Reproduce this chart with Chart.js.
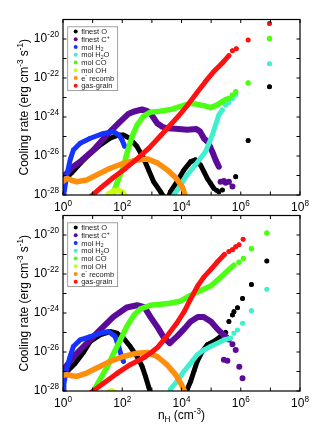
<!DOCTYPE html>
<html>
<head>
<meta charset="utf-8">
<script src="https://cdn.jsdelivr.net/npm/chart.js@4.4.1/dist/chart.umd.min.js"></script>
<style>
  body { margin: 0; background: #fff; }
  #wrap { position: relative; width: 319px; height: 432px; }
  canvas { position: absolute; left: 0; }
</style>
</head>
<body>
<div id="wrap">
  <canvas id="topChart" width="319" height="215" style="top:0"></canvas>
  <canvas id="botChart" width="319" height="222" style="top:210px"></canvas>
</div>
<script>
// values are [log10 nH, log10 cooling rate]; null = break in the band
const species = ['finest O', 'finest C^{+}', 'mol H_{2}', 'mol H_{2}O', 'mol CO', 'mol OH', 'e^{-} recomb', 'gas-grain'];
const xTickExps = [0, 2, 4, 6, 8];
const yTickExps = [-20, -22, -24, -26, -28];

/* upper panel */
const oTop = [[0,-27.3],[0.3,-26.85],[0.6,-26.35],[0.9,-25.9],[1.25,-25.44],[1.59,-25.09],[1.87,-24.92],[2.04,-24.92],[2.25,-25.09],[2.5,-25.52],[2.72,-26.12],[2.89,-26.72],[3.06,-27.32],[3.29,-27.83],[3.45,-28.2],[3.55,-28.15],[3.63,-27.83],[3.85,-27.32],[4.08,-26.72],[4.31,-26.29],[4.47,-26.2],[4.64,-26.46],[4.76,-26.81],[4.87,-27.15],[4.98,-27.4],[5.09,-27.66]];
const oTopDots = [[5.18,-27.75],[5.26,-27.83],[5.38,-27.74],[5.83,-27.06],[6.25,-25.21],[6.97,-22.45]];
const cTop = [[0,-27.1],[0.3,-26.6],[0.58,-26.29],[1.03,-25.69],[1.48,-24.92],[1.93,-24.24],[2.2,-23.85],[2.38,-23.73],[2.67,-23.61],[2.85,-23.7],[2.95,-23.81],[3.18,-24.32],[3.35,-24.5],[3.51,-24.58],[3.8,-24.6],[4.19,-24.65],[4.5,-24.62],[4.63,-24.75],[4.76,-25.1],[4.9,-25.3],[5.04,-25.78],[5.15,-26.2],[5.26,-26.55]];
const cTopDots = [[5.32,-27.32],[5.43,-27.28],[5.49,-27.37],[5.6,-27.32],[5.72,-27.57]];
const h2Top = [[0,-28.2],[0.05,-27.74],[0.12,-27.06],[0.24,-26.21],[0.35,-25.69],[0.58,-25.35],[0.92,-25.09],[1.37,-24.84],[1.71,-24.75],[1.9,-24.95],[2.0,-25.2],[2.08,-25.5]];
const h2TopDots = [];
const h2oTop = [[3.6,-28.3],[3.74,-28.0],[3.97,-27.49],[4.19,-26.97],[4.42,-26.55],[4.64,-26.12],[4.81,-25.78],[4.93,-25.35],[5.04,-24.92],[5.15,-24.41],[5.26,-23.9],[5.38,-23.64]];
const h2oTopDots = [[5.49,-23.4],[5.6,-23.25],[5.72,-23.05],[5.83,-22.85],[6.97,-21.27]];
const coTop = [[1.6,-28.3],[1.82,-27.4],[2.04,-26.55],[2.16,-25.86],[2.33,-25.01],[2.5,-24.41],[2.72,-23.95],[2.95,-23.75],[3.29,-23.7],[3.63,-23.62],[4.08,-23.4],[4.31,-23.3],[4.53,-23.35],[4.76,-23.42],[4.98,-23.52],[5.21,-23.38],[5.38,-23.21],[5.5,-23.1]];
const coTopDots = [[5.6,-23.04],[5.72,-22.87],[5.83,-22.7],[6.25,-22.25],[6.97,-19.97]];
const ohTop = [[1.45,-28.3],[1.55,-27.95],[1.7,-27.8],[1.85,-27.75],[2.0,-27.85],[2.12,-28.1],[2.2,-28.3]];
const ohTopDots = [];
const eTop = [[0,-27.3],[0.12,-27.14],[0.3,-27.25],[0.46,-27.32],[0.8,-27.23],[1.14,-26.97],[1.59,-26.63],[2.04,-26.38],[2.5,-26.2],[2.84,-26.15],[3.18,-26.35],[3.51,-26.7],[3.8,-27.1],[4.02,-27.57],[4.14,-28.09],[4.2,-28.4]];
const eTopDots = [];
const ggTop = [[0.8,-28.3],[0.92,-28.1],[1.3,-27.6],[1.7,-27.1],[2.1,-26.65],[2.5,-26.15],[2.9,-25.6],[3.3,-24.95],[3.6,-24.45],[3.9,-23.95],[4.2,-23.4],[4.5,-22.8],[4.8,-22.2],[5.1,-21.65],[5.4,-21.2],[5.6,-20.85]];
const ggTopDots = [[5.72,-20.6],[5.85,-20.5],[6.25,-20.05],[6.97,-19.2]];

/* lower panel */
const oBot = [[0,-27.2],[0.4,-26.6],[0.7,-26.0],[0.92,-25.46],[1.25,-25.12],[1.59,-24.95],[1.82,-25.04],[2.04,-25.29],[2.27,-25.72],[2.5,-26.23],[2.67,-26.74],[2.78,-27.23],[2.89,-27.78],[2.98,-28.2],
  null,[4.15,-28.2],[4.19,-27.93],[4.31,-27.5],[4.42,-26.99],[4.53,-26.48],[4.7,-25.97],[4.87,-25.63],[5.09,-25.46],[5.32,-25.21],[5.49,-25.0]];
const oBotDots = [[5.6,-24.44],[5.72,-24.1],[5.77,-23.93],[5.89,-23.73],[6.06,-23.25],[6.36,-22.54],[6.88,-21.33]];
const cBot = [[0,-26.95],[0.35,-26.25],[0.8,-25.55],[1.25,-24.87],[1.7,-24.2],[2.15,-23.72],[2.5,-23.6],[2.75,-23.7],[2.95,-24.2],[3.2,-24.75],[3.4,-25.25],[3.6,-25.55],[3.85,-25.2],[4.1,-24.8],[4.3,-24.45],[4.55,-24.2],[4.75,-24.2],[5.0,-24.45],[5.2,-24.8],[5.4,-25.1],[5.6,-25.35]];
const cBotDots = [[5.43,-26.4],[5.55,-26.45],[5.72,-25.6],[5.83,-25.9],[5.95,-26.75],[6.06,-27.35]];
const h2Bot = [[0,-28.2],[0.03,-27.6],[0.12,-26.91],[0.24,-26.23],[0.35,-25.72],[0.58,-25.38],[0.92,-25.21],[1.25,-25.04],[1.54,-24.95],[1.76,-25.21],[1.88,-25.72],[1.97,-26.2],[2.04,-26.48]];
const h2BotDots = [];
const h2oBot = [[3.55,-28.3],[3.63,-27.9],[3.85,-27.5],[4.08,-26.99],[4.31,-26.57],[4.53,-26.14],[4.76,-25.89],[4.98,-25.72],[5.21,-25.55],[5.43,-25.38],[5.66,-25.29]];
const h2oBotDots = [[5.77,-25.04],[5.89,-24.87],[6.06,-24.53],[6.36,-23.88],[6.88,-22.78]];
const coBot = [[0.95,-28.3],[1.03,-28.0],[1.25,-27.4],[1.5,-26.75],[1.7,-26.1],[1.93,-25.4],[2.15,-24.7],[2.4,-24.1],[2.6,-23.8],[2.95,-23.6],[3.3,-23.55],[3.6,-23.5],[3.95,-23.4],[4.3,-23.1],[4.65,-22.85],[5.0,-22.6],[5.3,-22.2],[5.55,-21.85],[5.77,-21.55]];
const coBotDots = [[5.94,-21.4],[6.09,-21.2],[6.36,-20.7],[6.88,-19.9]];
const ohBot = [[1.45,-28.25],[1.55,-28.05],[1.65,-28.0],[1.75,-28.1],[1.82,-28.3]];
const ohBotDots = [];
const eBot = [[0,-27.2],[0.12,-27.16],[0.3,-27.22],[0.46,-27.25],[0.8,-27.08],[1.14,-26.82],[1.59,-26.48],[2.04,-26.23],[2.5,-26.06],[2.84,-26.02],[3.18,-26.23],[3.51,-26.65],[3.8,-27.16],[3.97,-27.59],[4.1,-28.0],[4.2,-28.4]];
const eBotDots = [];
const ggBot = [[0.8,-28.3],[0.92,-28.1],[1.37,-27.6],[1.82,-27.1],[2.27,-26.65],[2.72,-26.3],[3.0,-26.0],[3.2,-25.75],[3.5,-25.2],[3.85,-24.5],[4.1,-23.9],[4.3,-23.3],[4.55,-22.6],[4.76,-22.15],[5.0,-21.75],[5.2,-21.4],[5.45,-21.0]];
const ggBotDots = [[5.6,-20.85],[5.72,-20.75],[5.83,-20.6],[5.94,-20.5],[6.08,-20.22]];

const colors = ['#000000', '#5c0b99', '#1634ff', '#40efd0', '#4cff14', '#ccff10', '#ff8e0c', '#ff1111'];
const bandWidths = [5, 6, 5, 5, 5.5, 6, 5.5, 5];
const FONT = '"Liberation Sans", Arial, Helvetica, sans-serif';
const yTitle = 'Cooling rate (erg cm^{-3} s^{-1})';
const xTitle = 'n_{H} (cm^{-3})';

function series(band, dots) {
  const pts = [];
  band.forEach(p => {
    if (p) pts.push({ x: 10 ** p[0], y: 10 ** p[1] });
    else pts.push({ x: pts[pts.length - 1].x, y: null });
  });
  dots.forEach(p => {
    pts.push({ x: 10 ** p[0], y: null });
    pts.push({ x: 10 ** p[0], y: 10 ** p[1] });
  });
  return pts;
}

function parseRich(s) {
  const out = [];
  const re = /(\^|_)\{([^}]*)\}/g;
  let last = 0, m;
  while ((m = re.exec(s))) {
    if (m.index > last) out.push({ t: s.slice(last, m.index), k: 0 });
    out.push({ t: m[2], k: m[1] === '^' ? 1 : -1 });
    last = re.lastIndex;
  }
  if (last < s.length) out.push({ t: s.slice(last), k: 0 });
  return out;
}

function richWidth(ctx, s, size) {
  let w = 0;
  parseRich(s).forEach(p => {
    ctx.font = (p.k ? size * 0.68 : size) + 'px ' + FONT;
    w += ctx.measureText(p.t).width;
  });
  return w;
}

function drawRich(ctx, s, x, y, size, align) {
  const w = richWidth(ctx, s, size);
  let cx = align === 'center' ? x - w / 2 : align === 'right' ? x - w : x;
  ctx.textAlign = 'left';
  ctx.textBaseline = 'alphabetic';
  parseRich(s).forEach(p => {
    ctx.font = (p.k ? size * 0.68 : size) + 'px ' + FONT;
    const dy = p.k === 1 ? -size * 0.42 : p.k === -1 ? size * 0.22 : 0;
    ctx.fillText(p.t, cx, y + dy);
    cx += ctx.measureText(p.t).width;
  });
}

// frame, inward ticks, tick labels, titles and the boxed legend
const decor = {
  id: 'decor',
  afterDatasetsDraw(chart, args, opts) {
    const ctx = chart.ctx, a = chart.chartArea;
    const xs = chart.scales.x, ys = chart.scales.y;
    ctx.save();
    ctx.strokeStyle = '#000';
    ctx.lineWidth = 1.2;
    ctx.strokeRect(a.left, a.top, a.right - a.left, a.bottom - a.top);
    ctx.lineWidth = 1;
    ctx.beginPath();
    for (let e = 0; e <= 8; e++) {
      const px = xs.getPixelForValue(10 ** e);
      ctx.moveTo(px, a.bottom); ctx.lineTo(px, a.bottom - 3.5);
      ctx.moveTo(px, a.top); ctx.lineTo(px, a.top + 3.5);
    }
    for (let e = -28; e <= -19; e++) {
      const py = ys.getPixelForValue(10 ** e);
      ctx.moveTo(a.left, py); ctx.lineTo(a.left + 3.5, py);
      ctx.moveTo(a.right, py); ctx.lineTo(a.right - 3.5, py);
    }
    ctx.stroke();

    ctx.fillStyle = '#000';
    xTickExps.forEach(e => drawRich(ctx, '10^{' + e + '}', xs.getPixelForValue(10 ** e), a.bottom + 16, 12, 'center'));
    yTickExps.forEach(e => drawRich(ctx, '10^{' + e + '}', a.left - 4, ys.getPixelForValue(10 ** e) + 3, 12, 'right'));

    ctx.save();
    ctx.translate(28, (a.top + a.bottom) / 2);
    ctx.rotate(-Math.PI / 2);
    drawRich(ctx, yTitle, 0, 0, 12, 'center');
    ctx.restore();
    if (opts.showXTitle) drawRich(ctx, xTitle, (a.left + a.right) / 2, a.bottom + 28, 12, 'center');

    // legend
    const fs = 7.5, rowH = 7.75;
    const lx = a.left + 4.7, ly = a.top + 7.3;
    let maxW = 0;
    species.forEach(s => { maxW = Math.max(maxW, richWidth(ctx, s, fs)); });
    const bw = 13.5 + maxW + 3.5, bh = rowH * species.length + 1.8;
    ctx.fillStyle = '#fff';
    ctx.fillRect(lx, ly, bw, bh);
    ctx.strokeStyle = '#8a8a8a';
    ctx.lineWidth = 0.8;
    ctx.strokeRect(lx, ly, bw, bh);
    species.forEach((s, i) => {
      const cy = ly + 4.6 + i * rowH;
      ctx.fillStyle = colors[i];
      ctx.beginPath();
      ctx.arc(lx + 8, cy, 2, 0, Math.PI * 2);
      ctx.fill();
      ctx.fillStyle = '#222';
      drawRich(ctx, s, lx + 13.5, cy + 2.7, fs, 'left');
    });
    ctx.restore();
  }
};

function makeDatasets(bands, dots) {
  return species.map((label, i) => ({
    label: label,
    data: series(bands[i], dots[i]),
    showLine: true,
    borderColor: colors[i],
    backgroundColor: colors[i],
    borderWidth: bandWidths[i],
    borderCapStyle: 'round',
    borderJoinStyle: 'round',
    tension: 0,
    pointRadius: 2.3,
    pointBorderWidth: 0,
    pointHoverRadius: 0,
    order: species.length - i
  }));
}

function makeChart(id, datasets, padding, showXTitle) {
  return new Chart(document.getElementById(id), {
    type: 'scatter',
    data: { datasets: datasets },
    options: {
      responsive: false,
      animation: false,
      events: [],
      layout: { padding: padding },
      scales: {
        x: { type: 'logarithmic', min: 1, max: 1e8, display: false },
        y: { type: 'logarithmic', min: 1e-28, max: 1e-19, display: false }
      },
      plugins: {
        legend: { display: false },
        tooltip: { enabled: false },
        decor: { showXTitle: showXTitle }
      }
    },
    plugins: [decor]
  });
}

const topChart = makeChart('topChart',
  makeDatasets([oTop, cTop, h2Top, h2oTop, coTop, ohTop, eTop, ggTop],
               [oTopDots, cTopDots, h2TopDots, h2oTopDots, coTopDots, ohTopDots, eTopDots, ggTopDots]),
  { left: 63, right: 19, top: 19.5, bottom: 20 }, false);

const botChart = makeChart('botChart',
  makeDatasets([oBot, cBot, h2Bot, h2oBot, coBot, ohBot, eBot, ggBot],
               [oBotDots, cBotDots, h2BotDots, h2oBotDots, coBotDots, ohBotDots, eBotDots, ggBotDots]),
  { left: 63, right: 19, top: 5.5, bottom: 41 }, true);
</script>
</body>
</html>
